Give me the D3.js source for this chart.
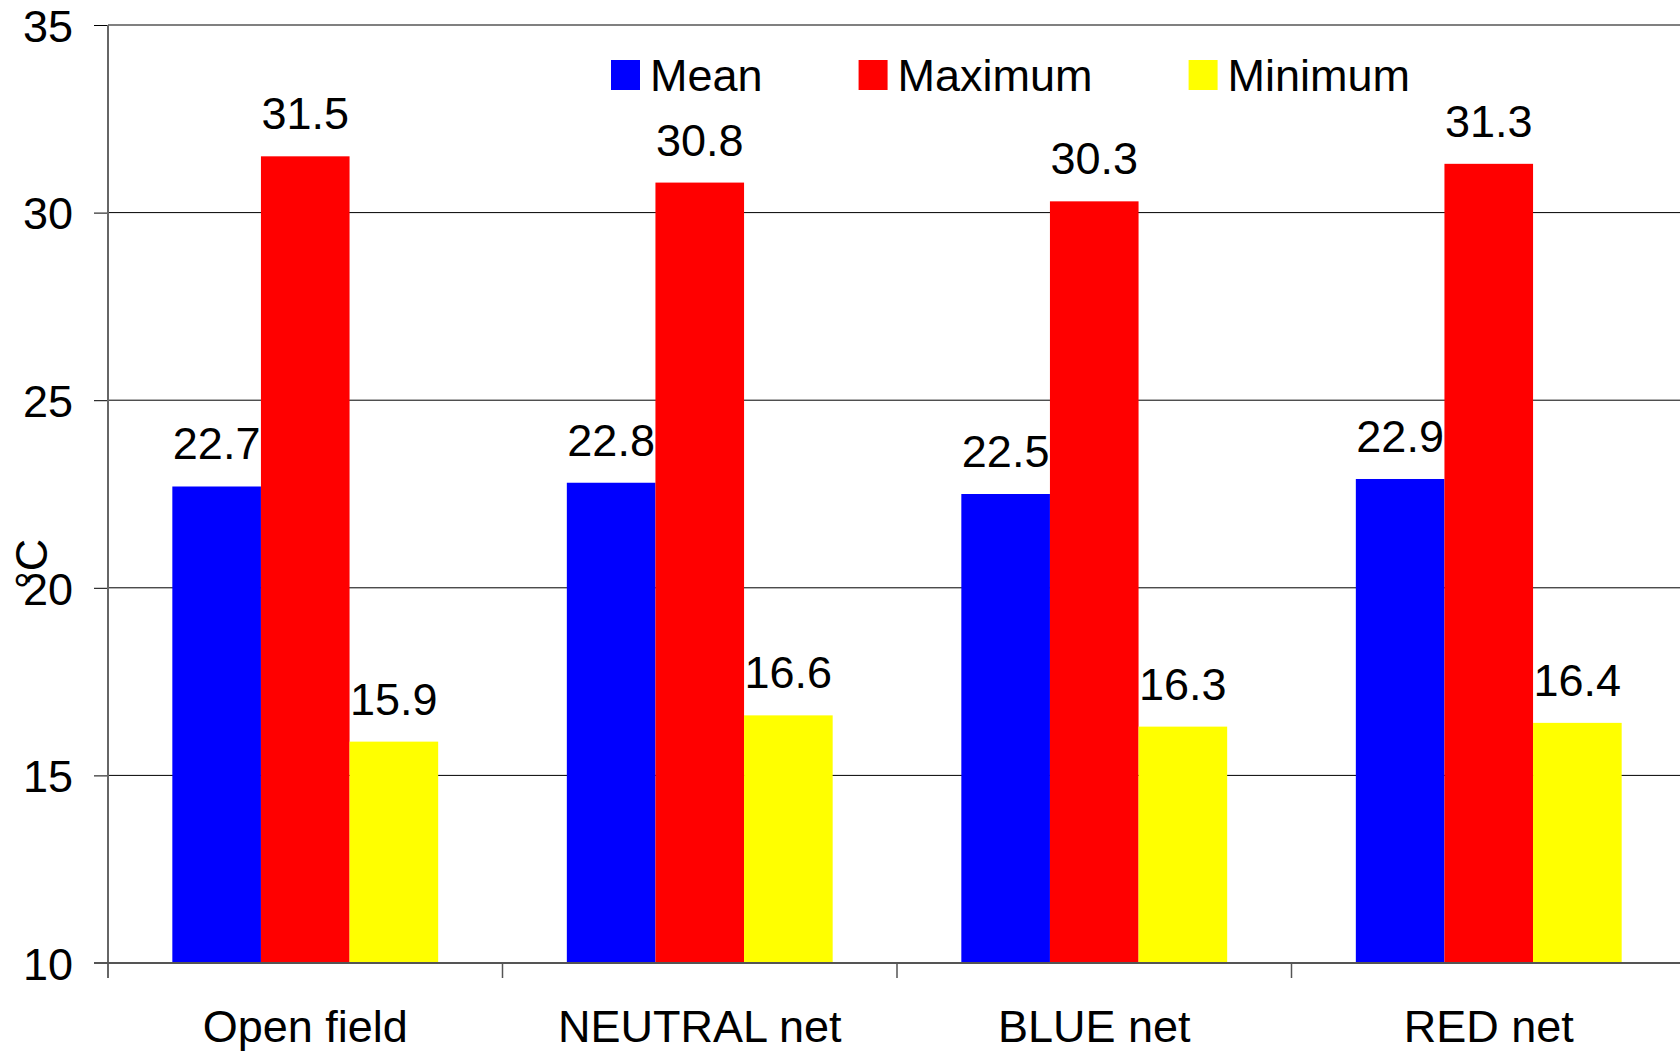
<!DOCTYPE html>
<html>
<head>
<meta charset="utf-8">
<script src="https://cdn.jsdelivr.net/npm/d3@7"></script>
<style>
  body { margin: 0; background: #fff; }
  text { font-family: Arial, "Liberation Sans", sans-serif; fill: #000; }
</style>
</head>
<body>
<div id="chart"></div>
<script>
const categories = ["Open field", "NEUTRAL net", "BLUE net", "RED net"];
const seriesNames = ["Mean", "Maximum", "Minimum"];
const meanValues = [22.7, 22.8, 22.5, 22.9];
const maxValues = [31.5, 30.8, 30.3, 31.3];
const minValues = [15.9, 16.6, 16.3, 16.4];
const yTicks = [10, 15, 20, 25, 30, 35];
const colors = ["#0000ff", "#ff0000", "#ffff00"];

const W = 1680, H = 1051;
const plot = { left: 108, right: 1686, top: 25, bottom: 963 };

const svg = d3.select("#chart")
  .append("svg")
  .attr("width", W)
  .attr("height", H);

const x0 = d3.scaleBand().domain(categories).range([plot.left, plot.right]);
const x1 = d3.scaleBand()
  .domain(seriesNames)
  .range([0, x0.bandwidth()])
  .paddingInner(0)
  .paddingOuter(0.726);
const y = d3.scaleLinear().domain([10, 35]).range([plot.bottom, plot.top]);
const color = d3.scaleOrdinal().domain(seriesNames).range(colors);

// gridlines
svg.append("g")
  .selectAll("line")
  .data(yTicks.filter(t => t > 10 && t < 35))
  .join("line")
  .attr("x1", plot.left).attr("x2", W)
  .attr("y1", d => y(d)).attr("y2", d => y(d))
  .attr("stroke", "#000")
  .attr("stroke-width", 1);

// top border
svg.append("line")
  .attr("x1", plot.left).attr("x2", W)
  .attr("y1", y(35)).attr("y2", y(35))
  .attr("stroke", "#808080")
  .attr("stroke-width", 2);

// bars
const rows = categories.map((c, i) => ({
  category: c,
  values: [
    { key: "Mean", value: meanValues[i] },
    { key: "Maximum", value: maxValues[i] },
    { key: "Minimum", value: minValues[i] }
  ]
}));

const groups = svg.append("g")
  .selectAll("g")
  .data(rows)
  .join("g")
  .attr("transform", d => `translate(${x0(d.category)},0)`);

groups.selectAll("rect")
  .data(d => d.values)
  .join("rect")
  .attr("x", d => x1(d.key))
  .attr("width", x1.bandwidth())
  .attr("y", d => y(d.value))
  .attr("height", d => y(10) - y(d.value))
  .attr("fill", d => color(d.key));

groups.selectAll("text")
  .data(d => d.values)
  .join("text")
  .attr("x", d => x1(d.key) + x1.bandwidth() / 2)
  .attr("y", d => y(d.value) - 27)
  .attr("text-anchor", "middle")
  .style("font-size", "45px")
  .text(d => d.value.toFixed(1));

// y axis
const yAxis = svg.append("g")
  .attr("transform", `translate(${plot.left},0)`)
  .call(d3.axisLeft(y).tickValues(yTicks).tickSize(14).tickPadding(21).tickFormat(d3.format("d")));
yAxis.select(".domain").remove();
yAxis.selectAll(".tick line").attr("stroke", "#000").attr("stroke-width", 1);
yAxis.selectAll(".tick text")
  .style("font-size", "45px")
  .attr("dy", "0.36em")
  .attr("fill", "#000");

svg.append("line")
  .attr("x1", plot.left).attr("x2", plot.left)
  .attr("y1", plot.top).attr("y2", plot.bottom + 15)
  .attr("stroke", "#666")
  .attr("stroke-width", 2);

// x axis
svg.append("line")
  .attr("x1", plot.left - 14).attr("x2", W)
  .attr("y1", plot.bottom).attr("y2", plot.bottom)
  .attr("stroke", "#555")
  .attr("stroke-width", 2);

svg.append("g")
  .selectAll("line")
  .data(categories.slice(1))
  .join("line")
  .attr("x1", d => x0(d)).attr("x2", d => x0(d))
  .attr("y1", plot.bottom).attr("y2", plot.bottom + 15)
  .attr("stroke", "#555")
  .attr("stroke-width", 1.5);

const xAxis = svg.append("g")
  .attr("transform", `translate(0,${plot.bottom})`)
  .call(d3.axisBottom(x0).tickSize(0).tickPadding(0));
xAxis.select(".domain").remove();
xAxis.selectAll(".tick text")
  .attr("y", 79)
  .attr("dy", 0)
  .style("font-size", "45px")
  .attr("fill", "#000");

// y title
svg.append("text")
  .attr("transform", `translate(47,564) rotate(-90)`)
  .attr("text-anchor", "middle")
  .style("font-size", "45px")
  .text("°C");

// legend
const legend = svg.append("g").attr("class", "legend");
let lx = 611;
seriesNames.forEach(name => {
  legend.append("rect")
    .attr("x", lx).attr("y", 60)
    .attr("width", 29).attr("height", 30)
    .attr("fill", color(name));
  const t = legend.append("text")
    .attr("x", lx + 39).attr("y", 91)
    .style("font-size", "45px")
    .text(name);
  lx += 39 + t.node().getComputedTextLength() + 96;
});
</script>
</body>
</html>
